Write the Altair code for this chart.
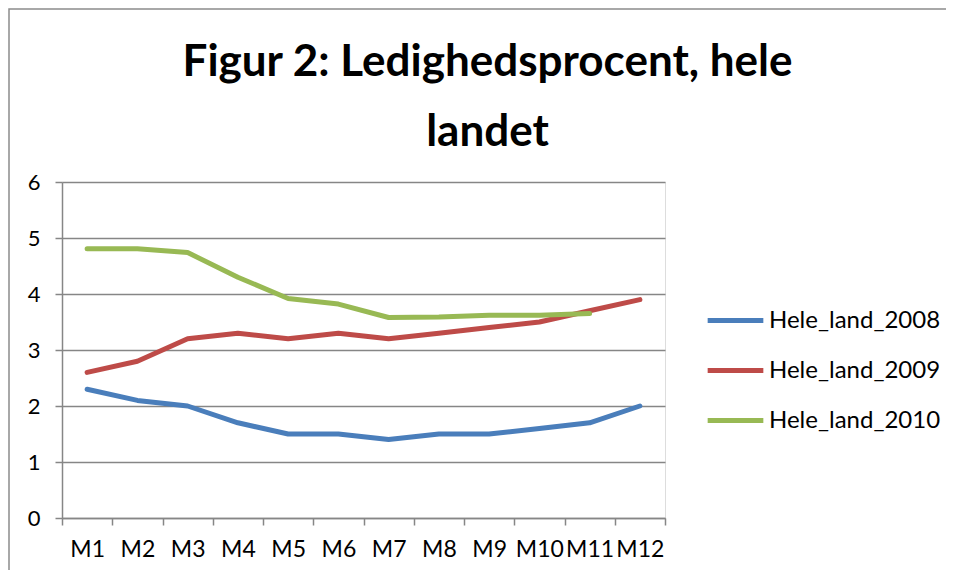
import altair as alt
import pandas as pd

months = ["M1", "M2", "M3", "M4", "M5", "M6", "M7", "M8", "M9", "M10", "M11", "M12"]
hele_2008 = [2.3, 2.1, 2.0, 1.7, 1.5, 1.5, 1.4, 1.5, 1.5, 1.6, 1.7, 2.0]
hele_2009 = [2.6, 2.8, 3.2, 3.3, 3.2, 3.3, 3.2, 3.3, 3.4, 3.5, 3.7, 3.9]
hele_2010 = [4.81, 4.81, 4.74, 4.3, 3.92, 3.82, 3.58, 3.59, 3.62, 3.62, 3.65]
series_names = ["Hele_land_2008", "Hele_land_2009", "Hele_land_2010"]
colors = ["#4A7EBB", "#BE4B48", "#98B954"]

rows = []
for name, vals in zip(series_names, [hele_2008, hele_2009, hele_2010]):
    for m, v in zip(months, vals):
        rows.append({"Måned": m, "Værdi": v, "Serie": name})
df = pd.DataFrame(rows)

FONT = "Lato"

lines = alt.Chart(df).mark_line(strokeWidth=5, strokeCap="round", strokeJoin="round").encode(
    x=alt.X("Måned:O", sort=months, bandPosition=0.5,
            scale=alt.Scale(type="band", paddingInner=0, paddingOuter=0),
            axis=alt.Axis(title=None, labelAngle=0, tickBand="extent", grid=False,
                          labelFontSize=23, labelFont=FONT, labelColor="#000000",
                          domainColor="#868686", tickColor="#868686", domainWidth=1.5,
                          tickWidth=1.5, tickSize=7, labelPadding=13)),
    y=alt.Y("Værdi:Q", scale=alt.Scale(domain=[0, 6]),
            axis=alt.Axis(title=None, values=[0, 1, 2, 3, 4, 5, 6], format="d",
                          labelFontSize=22, labelFont=FONT, labelColor="#000000",
                          gridColor="#868686", gridWidth=1.5, domainColor="#868686",
                          domainWidth=1.5, tickColor="#868686", tickWidth=1.5, tickSize=7,
                          labelPadding=15)),
    color=alt.Color("Serie:N", scale=alt.Scale(domain=series_names, range=colors),
                    legend=alt.Legend(title=None, orient="none", legendX=643, legendY=108,
                                      symbolType="stroke", symbolSize=3100, symbolStrokeWidth=5,
                                      labelFontSize=24, labelFont=FONT, labelColor="#000000",
                                      rowPadding=7, labelOffset=3, labelLimit=400)),
)

frame = alt.Chart(pd.DataFrame({"k": [0]})).mark_rect(
    fill=None, stroke="#8c8c8c", strokeWidth=1.5
).encode(
    x=alt.value(-53), x2=alt.value(950), y=alt.value(-173), y2=alt.value(450)
)

chart = alt.layer(frame, lines).properties(
    width=603,
    height=336,
    title=alt.Title(["Figur 2: Ledighedsprocent, hele", "landet"], fontSize=44, font=FONT,
                    fontWeight="bold", color="#000000", anchor="middle", dx=124, offset=-147,
                    lineHeight=70, frame="group"),
    autosize=alt.AutoSizeParams(type="none"),
    padding={"left": 54, "top": 174, "right": 281, "bottom": 52},
).configure_view(stroke=None).configure(background="white")

chart.save("out.html", embed_options={"renderer": "svg", "actions": False})
